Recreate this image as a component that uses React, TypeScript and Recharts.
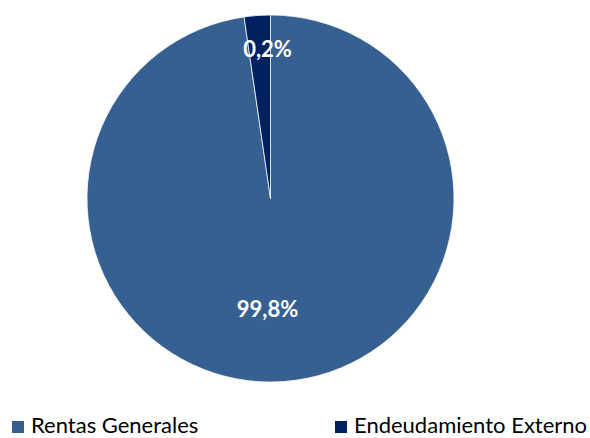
import * as React from 'react';
import { PieChart, Pie, Cell, Legend } from 'recharts';

const sources = ['Rentas Generales', 'Endeudamiento Externo'];
const shares = [97.7, 2.3];
const shareLabels = ['99,8%', '0,2%'];
const colors = ['#376092', '#002060'];

const data = sources.map((name, i) => ({ name, value: shares[i], label: shareLabels[i] }));

const RADIAN = Math.PI / 180;
const labelRadius = [0.6, 0.82];
const legendLeft = [12, 335];
const FONT = 'Lato, "Open Sans", sans-serif';

const renderLabel = (props: any) => {
  const { cx, cy, midAngle, outerRadius, index } = props;
  const r = outerRadius * labelRadius[index];
  const y = cy + r * Math.sin(-midAngle * RADIAN);
  return (
    <text
      x={cx - 3}
      y={y}
      fill="#fff"
      fontFamily={FONT}
      fontSize={22}
      fontWeight="bold"
      textAnchor="middle"
      dominantBaseline="central"
    >
      {data[index].label}
    </text>
  );
};

const LegendContent = () => (
  <div style={{ position: 'relative', height: 26, fontFamily: FONT, fontSize: 22, lineHeight: '24px', color: '#000' }}>
    {sources.map((s, i) => (
      <div
        key={s}
        style={{ position: 'absolute', left: legendLeft[i], top: 1, display: 'flex', alignItems: 'center', whiteSpace: 'nowrap' }}
      >
        <span style={{ width: 12, height: 12, background: colors[i], display: 'inline-block', marginRight: 7, marginTop: 3 }} />
        <span>{s}</span>
      </div>
    ))}
  </div>
);

export default function App() {
  return (
    <div style={{ position: 'absolute', left: 0, top: 0, background: '#fff' }}>
      <PieChart width={590} height={438} margin={{ top: 0, right: 0, bottom: 0, left: 0 }}>
        <Pie
          data={data}
          dataKey="value"
          cx={270.5}
          cy={198.5}
          outerRadius={183.5}
          startAngle={90}
          endAngle={-270}
          stroke="#fff"
          strokeWidth={0.75}
          label={renderLabel}
          labelLine={false}
          isAnimationActive={false}
        >
          {data.map((d, i) => (
            <Cell key={d.name} fill={colors[i]} />
          ))}
        </Pie>
        <Legend
          verticalAlign="bottom"
          content={<LegendContent />}
          wrapperStyle={{ left: 0, bottom: 0, width: 590 }}
        />
      </PieChart>
    </div>
  );
}
